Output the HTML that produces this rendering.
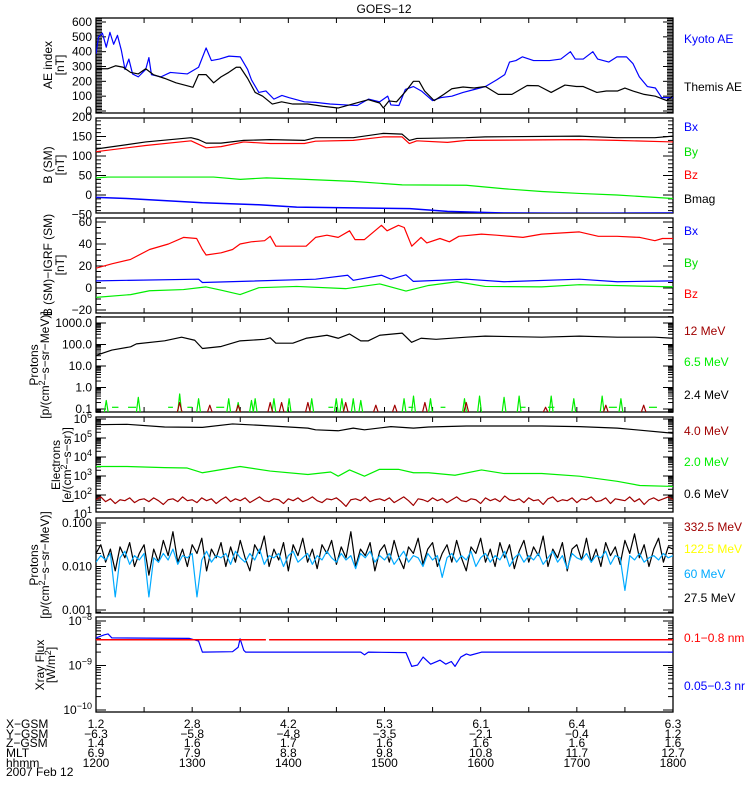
<!DOCTYPE html>
<html><head><meta charset="utf-8"><title>GOES-12</title>
<style>
html,body{margin:0;padding:0;background:#fff;}
svg{display:block;font-family:"Liberation Sans",sans-serif;}
</style></head>
<body>
<svg id="chart" width="750" height="800" viewBox="0 0 750 800" xmlns="http://www.w3.org/2000/svg">
<rect x="0" y="0" width="750" height="800" fill="#fff"/>
<text x="384" y="13" font-size="12" text-anchor="middle">GOES−12</text>
<g id="plots"></g>
<g id="legends" font-size="12">
<text x="684" y="43" fill="#0000ff">Kyoto AE</text>
<text x="684" y="91" fill="#000">Themis AE</text>
<text x="684" y="131" fill="#0000ff">Bx</text>
<text x="684" y="156" fill="#00dd00">By</text>
<text x="684" y="179" fill="#ff0000">Bz</text>
<text x="684" y="203" fill="#000">Bmag</text>
<text x="684" y="235" fill="#0000ff">Bx</text>
<text x="684" y="267" fill="#00dd00">By</text>
<text x="684" y="298" fill="#ff0000">Bz</text>
<text x="684" y="335" fill="#a00000">12 MeV</text>
<text x="684" y="366" fill="#00ee00">6.5 MeV</text>
<text x="684" y="399" fill="#000">2.4 MeV</text>
<text x="684" y="435" fill="#a00000">4.0 MeV</text>
<text x="684" y="466" fill="#00ee00">2.0 MeV</text>
<text x="684" y="498" fill="#000">0.6 MeV</text>
<text x="684" y="531" fill="#a00000">332.5 MeV</text>
<text x="684" y="553" fill="#ffff00">122.5 MeV</text>
<text x="684" y="578" fill="#00aaff">60 MeV</text>
<text x="684" y="602" fill="#000">27.5 MeV</text>
<text x="684" y="642" fill="#ff0000">0.1−0.8 nm</text>
<text x="684" y="690" fill="#0000ff">0.05−0.3 nr</text>
</g>
<g id="ytitles" font-size="12" text-anchor="middle">
<text transform="translate(52,65) rotate(-90)">AE index</text>
<text transform="translate(64,65) rotate(-90)">[nT]</text>
<text transform="translate(52,165) rotate(-90)">B (SM)</text>
<text transform="translate(64,165) rotate(-90)">[nT]</text>
<text transform="translate(52,265) rotate(-90)">B (SM)−IGRF (SM)</text>
<text transform="translate(64,265) rotate(-90)">[nT]</text>
<text transform="translate(38,365) rotate(-90)">Protons</text>
<text transform="translate(49,365) rotate(-90)">[p/(cm<tspan dy="-4" font-size="9">2</tspan><tspan dy="4">−s−sr−MeV)]</tspan></text>
<text transform="translate(60,465) rotate(-90)">Electrons</text>
<text transform="translate(71,465) rotate(-90)">[e/(cm<tspan dy="-4" font-size="9">2</tspan><tspan dy="4">−s−sr)]</tspan></text>
<text transform="translate(38,565) rotate(-90)">Protons</text>
<text transform="translate(49,565) rotate(-90)">[p/(cm<tspan dy="-4" font-size="9">2</tspan><tspan dy="4">−s−sr−MeV)]</tspan></text>
<text transform="translate(44,665) rotate(-90)">Xray Flux</text>
<text transform="translate(55,665) rotate(-90)">[W/m<tspan dy="-4" font-size="9">2</tspan><tspan dy="4">]</tspan></text>
</g>
<g id="xlabels" font-size="12">
<text x="6" y="728">X−GSM</text>
<text x="6" y="738">Y−GSM</text>
<text x="6" y="747">Z−GSM</text>
<text x="6" y="757">MLT</text>
<text x="6" y="767">hhmm</text>
<text x="6" y="776">2007 Feb 12</text>
</g>
</svg>
<script>
// ---- data (time in minutes after 12:00) ----
const hourLabels = ["1200","1300","1400","1500","1600","1700","1800"];
const xgsmLabels = ["1.2","2.8","4.2","5.3","6.1","6.4","6.3"];
const ygsmLabels = ["−6.3","−5.8","−4.8","−3.5","−2.1","−0.4","1.2"];
const zgsmLabels = ["1.4","1.6","1.7","1.6","1.6","1.6","1.6"];
const mltLabels = ["6.9","7.9","8.8","9.8","10.8","11.7","12.7"];

const kyotoT = [0,1.6,4,6.4,8.7,11,13.4,15.8,18.1,20.5,22.8,26.4,31,33,34.6,40.5,46.4,57,64,68.7,72,77,83,90,94.6,97,101.6,106,111,116,120.5,130,137,146,156,163,170,177,182,184,189,193,198,203,210,215,222,229,236,243,250,255,258,262,266,273,283,290,296,299,304,310,313,320,325,331,335,339,344,349,353,360];
const kyotoAE = [385,500,525,430,530,450,510,410,280,350,250,230,280,360,245,230,260,250,295,425,340,350,370,365,280,210,125,135,80,105,90,62,58,47,41,37,80,62,100,41,37,145,165,135,70,90,100,125,145,165,210,245,330,340,365,340,340,350,400,350,350,400,350,330,365,365,320,230,165,155,90,90];
const themisT = [0,7.5,12.2,17,21.6,26.4,31,35.8,42.8,49.9,57,60.5,64,68.7,73.4,78,82.8,87.5,90,94.6,99.3,104,110,115.8,122.8,132,141.5,151,160,169.9,177,179.3,182.8,187.5,193.4,198,201.6,205,211,217,222,229,236,243,251,259.5,269,276,284,292.6,299.7,304,312.5,318.4,325.5,330,334.9,342,349,356,360];
const themisAE = [285,285,305,295,260,250,285,245,220,190,170,160,245,245,190,230,260,295,295,220,125,100,47,62,47,47,32,20,47,76,54,20,68,62,135,200,200,135,70,112,150,162,155,165,112,112,172,170,125,175,165,165,125,135,135,155,135,112,100,70,100];

const bmagT = [0,31,59.3,64,68.7,78,92.2,108.7,130,137,160.5,179.3,191,195.5,200.2,231,242.8,301.6,325,348.7,360];
const bmag = [118,136,147,142,133,133,140,142,140,147,147,158,156,140,145,147,149,151,147,147,151];
const bzT = [0,31,59.3,68.7,78,92.2,108.7,130,137,160.5,179.3,191,195.5,200.2,219.3,231,301.6,325,360];
const bz = [111,127,139,121,124,136,132,132,138,140,149,149,132,139,135,140,142,140,136];
const byT = [0,7.5,73.4,90,106.4,125.2,160.5,191,231,254.6,278.1,301.6,325,360];
const by = [44,46,46,40,44,41,35,26,25,16,9,4,0,-9];
const bxT = [0,19.3,66.4,101.6,125.2,160.5,195.8,219.3,254.6,301.6,360];
const bx = [-6,-9,-20,-25,-31,-33,-35,-42,-46,-47,-46];

const dbzT = [0,9.9,21.6,33.4,45.2,54.6,62.8,66.4,68.7,78.1,85.2,89.9,96.9,105.2,108.7,112.2,122.8,131.1,137,144.1,151.1,158.2,161.6,167.5,178.1,181.6,188.7,192.3,197,202.8,206.4,214.6,220.5,226.4,240.5,249.9,266.4,278.1,301.6,313.4,325.2,339.3,348.7,353.4,360];
const dbz = [18,22,26,35,40,46,45,35,30,32,35,40,42,43,47,38,38,38,46,48,46,52,44,44,57,52,57,55,38,46,41,45,42,47,49,48,46,49,51,47,47,46,43,45,45];
const dbxT = [0,64,66.4,137,157,160.5,178.1,184,193.4,198,231,254.6,301.6,325.2,360];
const dbx = [6.5,8,5,8,11.6,7,11.6,8,12,6,8,5.7,8,5.7,6.5];
const dbyT = [0,21.6,33.4,54.6,68.7,78.1,89.9,101.6,125.2,155.8,177,193.4,207.5,225.2,242.8,278.1,301.6,360];
const dby = [-8.5,-6,-2.5,-1.4,1,-2,-6,0.3,1.4,-0.6,3.7,-2.8,2.3,5.7,1.4,1,3,1];

const p24T = [0,9.9,21.6,25.2,42.8,53.4,61.6,66.4,78.1,89.9,105.2,108.7,112.2,122.8,131.1,144.1,151.1,158.2,165.2,169.9,177,191,196.9,202.8,212.2,231,242.8,278.1,301.6,325.2,348.7,360];
const p24Flux = [31,55,78,107,148,219,158,65,81,148,174,204,115,115,195,269,195,309,148,148,269,339,126,195,174,219,245,219,245,219,219,195];
const p65SpikeT = [6.4,26.4,52.2,64,82.8,88.7,97,99.3,111,120.5,134.6,149.9,153.4,160.5,165.2,192.2,198.1,208.7,229.9,239.3,254.6,264,284,298.1,315.8,327.5];
const p65SpikePeak = [0.25,0.35,0.5,0.3,0.3,0.2,0.25,0.3,0.3,0.3,0.3,0.3,0.3,0.3,0.25,0.3,0.4,0.3,0.3,0.4,0.35,0.4,0.4,0.3,0.4,0.3];
const p65DashStart = [10,20,45,57,75,145,195,215,265,282,320,345];
const p65DashEnd = [14,25,48,60,80,148,198,218,268,286,325,350];
const p65DashLevel = 0.12;
const p12SpikeT = [52.2,71,88.7,108.7,115.8,132.2,155.8,174.6,186.4,205.2,231,280.5,318.1,341.7];
const p12SpikePeak = [0.2,0.15,0.15,0.2,0.2,0.2,0.2,0.15,0.15,0.2,0.2,0.12,0.15,0.15];

const e06T = [0,19.3,42.8,66.4,85.2,101.6,132.2,137,151.1,160.5,167.5,184,198.1,207.5,231,278.1,301.6,325.2,336.9,360];
const e06Log = [5.7,5.72,5.58,5.56,5.74,5.67,5.52,5.43,5.38,5.52,5.43,5.6,5.52,5.58,5.63,5.63,5.6,5.52,5.43,5.25];
const e20T = [0,19.3,42.8,56.9,66.4,89.9,108.7,132.2,146.4,151.1,158.2,167.5,176.9,188.7,198.1,207.5,224,240.5,254.6,278.1,301.6,325.2,339.3,360];
const e20Log = [3.5,3.5,3.44,3.42,3.17,3.5,3.26,3.08,3.21,2.99,3.32,2.99,3.35,3.35,3.17,3.17,3.04,3.32,3.13,3.13,2.99,2.72,2.5,2.45];
const gridStep = 3;
const e40Log = [1.75,1.9,1.65,1.8,1.55,1.75,1.7,1.85,1.6,1.75,
1.8,1.65,1.85,1.7,1.5,1.75,1.8,1.65,1.9,1.7,
1.75,1.6,1.85,1.7,1.8,1.55,1.75,1.9,1.65,1.8,
1.7,1.85,1.6,1.75,1.9,1.7,1.65,1.8,1.75,1.55,
1.8,1.7,1.85,1.65,1.75,1.9,1.7,1.6,1.8,1.75,
1.85,1.65,1.4,1.75,1.8,1.7,1.9,1.65,1.75,1.8,
1.7,1.85,1.6,1.75,1.9,1.7,1.45,1.8,1.75,1.65,
1.85,1.7,1.8,1.6,1.75,1.9,1.7,1.65,1.8,1.75,
1.55,1.85,1.7,1.8,1.65,1.95,1.75,1.7,1.8,1.6,
1.85,1.7,1.75,1.5,1.8,1.9,1.65,1.75,1.7,1.85,
1.6,1.8,1.75,1.9,1.65,1.7,1.85,1.55,1.8,1.75,
1.7,1.9,1.65,1.8,1.5,1.75,1.85,1.7,1.8,1.9,1.75];

const hp27Log = [-1.7,-1.5,-1.9,-1.6,-2.1,-1.55,-1.8,-1.45,-2.0,-1.7,
-1.5,-2.2,-1.6,-1.9,-1.4,-1.75,-1.2,-1.9,-1.6,-2.0,
-1.5,-1.7,-1.35,-2.1,-1.6,-1.8,-1.45,-2.0,-1.55,-1.9,
-1.4,-1.8,-2.1,-1.5,-1.7,-1.3,-2.0,-1.6,-1.85,-1.45,
-2.1,-1.5,-1.75,-1.35,-1.9,-1.6,-2.05,-1.5,-1.7,-1.4,
-1.95,-1.55,-1.8,-1.2,-2.0,-1.6,-1.75,-1.45,-2.1,-1.65,
-1.5,-1.9,-1.4,-1.8,-2.05,-1.55,-1.7,-1.35,-1.95,-1.6,
-1.45,-2.0,-1.7,-1.5,-1.9,-1.4,-1.8,-2.1,-1.55,-1.7,
-1.35,-1.9,-1.6,-2.0,-1.45,-1.8,-1.5,-2.05,-1.65,-1.4,
-1.9,-1.55,-1.75,-1.3,-2.0,-1.6,-1.8,-1.45,-2.1,-1.6,
-1.5,-1.85,-1.35,-1.9,-1.6,-2.0,-1.45,-1.75,-1.55,-1.95,
-1.4,-1.7,-1.25,-1.8,-1.5,-2.0,-1.6,-1.35,-1.9,-1.55,-1.6];
const hp60Log = [-1.9,-1.75,-1.85,-1.7,-2.7,-1.8,-1.65,-1.95,-1.75,-1.85,
-1.7,-2.7,-1.8,-1.9,-1.7,-1.85,-1.6,-1.95,-1.75,-1.8,
-1.7,-2.7,-1.85,-1.65,-1.9,-1.75,-1.8,-1.7,-1.95,-1.65,
-1.8,-1.9,-1.7,-1.85,-1.6,-1.95,-1.75,-1.8,-1.7,-2.0,
-1.75,-1.65,-1.9,-1.8,-1.7,-1.95,-1.75,-1.85,-1.65,-1.8,
-1.9,-1.7,-1.85,-1.75,-2.05,-1.7,-1.8,-1.65,-1.9,-1.75,
-1.85,-1.7,-1.95,-1.8,-1.65,-1.9,-1.75,-1.8,-2.0,-1.7,
-1.85,-1.75,-2.25,-1.8,-1.7,-1.9,-1.75,-1.85,-1.65,-2.0,
-1.8,-1.7,-1.9,-1.75,-1.85,-1.65,-2.0,-1.8,-1.7,-1.9,
-1.75,-1.85,-1.7,-1.95,-1.8,-1.65,-1.9,-1.75,-2.05,-1.7,
-1.8,-1.85,-1.7,-1.9,-1.75,-1.8,-1.65,-1.95,-1.75,-1.8,
-2.55,-1.75,-1.85,-1.7,-1.9,-1.8,-1.75,-1.85,-1.7,-1.8,-1.75];

const xrLongT = [0,106,107,108,360];
const xrLongLog = [-8.42,-8.42,null,-8.42,-8.42];
const xrShortT = [0,5.2,7.5,9.9,58.1,64,66.4,85.2,88.7,89.9,92.2,93.4,165.2,167.5,169.9,193.4,197,200.6,204.1,208.8,214.6,218.2,221.7,224,227.6,231.1,233.5,240.5,360];
const xrShortLog = [-8.38,-8.31,-8.29,-8.38,-8.39,-8.45,-8.7,-8.69,-8.59,-8.4,-8.66,-8.7,-8.7,-8.76,-8.7,-8.71,-9.02,-8.99,-8.81,-8.97,-8.88,-8.97,-8.91,-9.02,-8.81,-8.74,-8.77,-8.7,-8.7];

// ---- layout & scales ----
const SVGNS = "http://www.w3.org/2000/svg";
const X0 = 96, X1 = 673, TSPAN = 360, PH = 95;
const tops = [18,118,218,317,417,518,617];
function xOf(t){ return X0 + t / TSPAN * (X1 - X0); }
const yAE = v => 111 - v * (89/600);
const yB = v => 195 - v * 0.39;
const yDB = v => 288 - v * 1.1;
const yP = v => 323 + (3 - Math.log10(v)) * 21.5;
const yE = L => 419 + (6 - L) * 19;
const yHP = L => 523 + (-1 - L) * 43.5;
const yXR = L => 621 + (-8 - L) * 44.5;

const plots = document.getElementById('plots');
function mk(tag, attrs){
  const el = document.createElementNS(SVGNS, tag);
  for (const k in attrs) el.setAttribute(k, attrs[k]);
  return el;
}
function pathD(ts, vs, yf){
  let d = "", pen = false;
  for (let i = 0; i < ts.length; i++){
    if (vs[i] === null || vs[i] === undefined){ pen = false; continue; }
    d += (pen ? "L" : "M") + xOf(ts[i]).toFixed(2) + "," + yf(vs[i]).toFixed(2);
    pen = true;
  }
  return d;
}
function gridTimes(n){ const a=[]; for(let i=0;i<n;i++) a.push(i*gridStep); return a; }

// clip paths & frames
const defs = mk('defs', {});
plots.appendChild(defs);
tops.forEach((top, i) => {
  const cp = mk('clipPath', {id: 'clip' + i});
  cp.appendChild(mk('rect', {x: X0, y: top, width: X1 - X0, height: PH}));
  defs.appendChild(cp);
});

function series(pi, ts, vs, yf, color, name, w){
  const p = mk('path', {d: pathD(ts, vs, yf), fill: 'none', stroke: color, 'stroke-width': w || 1.2, 'clip-path': 'url(#clip' + pi + ')', 'stroke-linejoin': 'round'});
  
  
  plots.appendChild(p);
  return p;
}
function tick(x1, y1, x2, y2, g){
  const l = mk('line', {x1: x1, y1: y1, x2: x2, y2: y2, stroke: '#000', 'stroke-width': 1});
  
  
  g.appendChild(l);
}
function label(x, y, txt, g, sup){
  const t = mk('text', {x: x, y: y + 4, 'font-size': 12, 'text-anchor': 'end'});
  
  
  if (sup !== undefined){
    t.textContent = '10';
    const s = mk('tspan', {dy: -5, 'font-size': 9});
    s.textContent = sup;
    t.appendChild(s);
  } else t.textContent = txt;
  g.appendChild(t);
}

// axes per panel
tops.forEach((top, i) => {
  const g = mk('g', {});
  
  
  plots.appendChild(g);
  const fr = mk('rect', {x: X0, y: top, width: X1 - X0, height: PH, fill: 'none', stroke: '#000', 'stroke-width': 1.3});
  
  
  g.appendChild(fr);
  for (let t = 0; t <= TSPAN; t += 30){
    const x = xOf(t);
    tick(x, top + PH, x, top + PH - 5, g);
    tick(x, top, x, top + 5, g);
  }
  const bot = top + PH;
  const yt = (y, len) => { if (y >= top - 0.5 && y <= bot + 0.5){ tick(X0, y, X0 + len, y, g); tick(X1, y, X1 - len, y, g); } };
  if (i === 0){
    for (let v = -10; v <= 620; v += 10) yt(yAE(v), v % 100 === 0 ? 10 : 6);
    for (let v = 0; v <= 600; v += 100) label(92, yAE(v), String(v), g);
  } else if (i === 1){
    for (let v = -50; v <= 200; v += 10) yt(yB(v), v % 50 === 0 ? 10 : 5);
    for (let v = -50; v <= 200; v += 50) label(92, yB(v), String(v).replace('-', '−'), g);
  } else if (i === 2){
    for (let v = -20; v <= 60; v += 5) yt(yDB(v), v % 20 === 0 ? 10 : 5);
    for (let v = -20; v <= 60; v += 20) label(92, yDB(v), String(v).replace('-', '−'), g);
  } else {
    let yf, dmin, dmax, labs;
    if (i === 3){ yf = L => yP(Math.pow(10, L)); dmin = -2; dmax = 3; labs = ['0.1','1.0','10.0','100.0','1000.0']; }
    if (i === 4){ yf = yE; dmin = 0; dmax = 6; labs = null; }
    if (i === 5){ yf = yHP; dmin = -4; dmax = -1; labs = ['0.001','0.010','0.100']; }
    if (i === 6){ yf = yXR; dmin = -11; dmax = -8; labs = null; }
    for (let d = dmin; d <= dmax; d++){
      yt(yf(d), 10);
      for (let m = 2; m <= 9; m++) yt(yf(d + Math.log10(m)), 5);
    }
    if (i === 3) for (let d = -1; d <= 3; d++) label(92, yf(d), labs[d + 1], g);
    if (i === 4) for (let d = 1; d <= 6; d++) label(92, yf(d), '', g, String(d));
    if (i === 5) for (let d = -3; d <= -1; d++) label(92, yf(d), labs[d + 3], g);
    if (i === 6) for (let d = -10; d <= -8; d++) label(92, yf(d), '', g, '−' + String(-d));
  }
});

// panel 1
series(0, kyotoT, kyotoAE, yAE, '#0000ff', 'kyoto-ae-line');
series(0, themisT, themisAE, yAE, '#000000', 'themis-ae-line');
// panel 2
series(1, byT, by, yB, '#00ee00', 'by-line');
series(1, bxT, bx, yB, '#0000ff', 'bx-line', 1.5);
series(1, bmagT, bmag, yB, '#000000', 'bmag-line');
series(1, bzT, bz, yB, '#ff0000', 'bz-line');
// panel 3
series(2, dbzT, dbz, yDB, '#ff0000', 'dbz-line');
series(2, dbxT, dbx, yDB, '#0000ff', 'dbx-line');
series(2, dbyT, dby, yDB, '#00ee00', 'dby-line');
// panel 4
series(3, p24T, p24Flux, yP, '#000000', 'protons-2-4mev-line');
for (let k = 0; k < p65DashStart.length; k++){
  series(3, [p65DashStart[k], p65DashEnd[k]], [p65DashLevel, p65DashLevel], yP, '#00ee00', 'protons-6-5mev-dash');
}
for (let k = 0; k < p65SpikeT.length; k++){
  const t = p65SpikeT[k];
  series(3, [t - 1.2, t, t + 1.2], [0.07, p65SpikePeak[k], 0.07], yP, '#00ee00', 'protons-6-5mev-spike');
}
for (let k = 0; k < p12SpikeT.length; k++){
  const t = p12SpikeT[k];
  series(3, [t - 1.5, t, t + 1.5], [0.07, p12SpikePeak[k], 0.07], yP, '#a00000', 'protons-12mev-spike');
}
// panel 5
series(4, e06T, e06Log, yE, '#000000', 'electrons-0-6mev-line');
series(4, e20T, e20Log, yE, '#00ee00', 'electrons-2-0mev-line');
series(4, gridTimes(e40Log.length), e40Log, yE, '#a00000', 'electrons-4-0mev-line');
// panel 6
series(5, gridTimes(hp27Log.length), hp27Log, yHP, '#000000', 'protons-27-5mev-line');
series(5, gridTimes(hp60Log.length), hp60Log, yHP, '#00aaff', 'protons-60mev-line');
// panel 7
series(6, xrShortT, xrShortLog, yXR, '#0000ff', 'xray-short-line');
series(6, xrLongT, xrLongLog, yXR, '#ff0000', 'xray-long-line', 1.5);

// bottom labels
const xl = document.getElementById('xlabels');
const rows = [[xgsmLabels, 728], [ygsmLabels, 738], [zgsmLabels, 747], [mltLabels, 757], [hourLabels, 767]];
rows.forEach(r => {
  r[0].forEach((s, k) => {
    const t = mk('text', {x: X0 + k * 96.17, y: r[1], 'text-anchor': 'middle'});
    
    
    t.textContent = s;
    xl.appendChild(t);
  });
});
</script>
</body></html>
